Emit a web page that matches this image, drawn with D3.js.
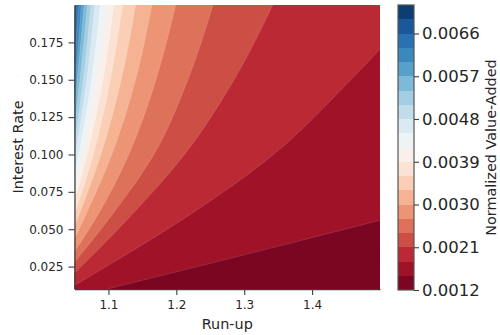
<!DOCTYPE html>
<html>
<head>
<meta charset="utf-8">
<script src="https://cdn.jsdelivr.net/npm/d3@7"></script>
<style>
  html, body { margin: 0; padding: 0; background: #fff; }
  svg { display: block; }
  text { font-family: "DejaVu Sans", sans-serif; fill: #262626; }
</style>
</head>
<body>
<svg id="chart" width="500" height="335"></svg>
<script>
// Contour levels of the normalized value-added surface (20 filled bands)
const levels = [0.0012, 0.0015, 0.0018, 0.0021, 0.0024, 0.0027, 0.0030, 0.0033,
                0.0036, 0.0039, 0.0042, 0.0045, 0.0048, 0.0051, 0.0054, 0.0057,
                0.0060, 0.0063, 0.0066, 0.0069, 0.0072];

// Interest rates at which each contour's run-up position is given
const rateSamples = [0.01, 0.03, 0.06, 0.10, 0.15, 0.20];

// Run-up where the surface crosses each inner level (levels[1] .. levels[19]),
// one entry per interest rate in rateSamples
const contourRunUp = [
  [1.098, 1.275, 1.535, 1.880, 2.300, 2.700], // 0.0015
  [1.041, 1.115, 1.221, 1.343, 1.457, 1.560], // 0.0018
  [1.026, 1.071, 1.135, 1.212, 1.285, 1.342], // 0.0021
  [1.019, 1.054, 1.106, 1.167, 1.217, 1.254], // 0.0024
  [1.015, 1.043, 1.085, 1.130, 1.170, 1.199], // 0.0027
  [1.0125, 1.035, 1.067, 1.105, 1.140, 1.164], // 0.0030
  [1.011, 1.030, 1.057, 1.089, 1.119, 1.140], // 0.0033
  [1.009, 1.026, 1.050, 1.078, 1.103, 1.121], // 0.0036
  [1.008, 1.023, 1.044, 1.069, 1.092, 1.108], // 0.0039
  [1.0074, 1.021, 1.040, 1.062, 1.082, 1.097], // 0.0042
  [1.0067, 1.019, 1.036, 1.056, 1.075, 1.088], // 0.0045
  [1.006, 1.017, 1.033, 1.051, 1.068, 1.080], // 0.0048
  [1.0056, 1.016, 1.030, 1.047, 1.063, 1.074], // 0.0051
  [1.0052, 1.015, 1.028, 1.044, 1.058, 1.069], // 0.0054
  [1.005, 1.014, 1.026, 1.041, 1.054, 1.064], // 0.0057
  [1.0046, 1.013, 1.025, 1.038, 1.051, 1.060], // 0.0060
  [1.0043, 1.012, 1.023, 1.036, 1.048, 1.056], // 0.0063
  [1.0041, 1.011, 1.022, 1.034, 1.045, 1.053], // 0.0066
  [1.0039, 1.0105, 1.021, 1.032, 1.043, 1.0505] // 0.0069
];

// Axis ticks
const xTicks = [1.1, 1.2, 1.3, 1.4];
const yTicks = [0.025, 0.05, 0.075, 0.1, 0.125, 0.15, 0.175];
const cbarTicks = [0.0012, 0.0021, 0.0030, 0.0039, 0.0048, 0.0057, 0.0066];

// Diverging red-blue palette
const rdbu = ["#67001f", "#b2182b", "#d6604d", "#f4a582", "#fddbc7", "#f7f7f7",
              "#d1e5f0", "#92c5de", "#4393c3", "#2166ac", "#053061"];

const svg = d3.select("#chart");
const plot = { left: 74.5, right: 380, top: 5, bottom: 289 };

const x = d3.scaleLinear().domain([1.05, 1.5]).range([plot.left, plot.right]);
const y = d3.scaleLinear().domain([0.01, 0.2]).range([plot.bottom, plot.top]);

const palette = d3.scaleLinear()
  .domain(d3.range(rdbu.length).map(i => i / (rdbu.length - 1)))
  .range(rdbu)
  .interpolate(d3.interpolateRgb);
const nBands = levels.length - 1;
const bandColor = k => palette((k + 0.5) / nBands);

// Clip to the plotting area
svg.append("defs").append("clipPath").attr("id", "plot-clip")
  .append("rect")
  .attr("x", plot.left).attr("y", plot.top)
  .attr("width", plot.right - plot.left).attr("height", plot.bottom - plot.top);

const field = svg.append("g").attr("clip-path", "url(#plot-clip)");

// Top band fills the whole area; each lower band is painted to the right of its level
field.append("rect")
  .attr("x", plot.left).attr("y", plot.top)
  .attr("width", plot.right - plot.left).attr("height", plot.bottom - plot.top)
  .attr("fill", bandColor(nBands - 1));

const area = d3.area()
  .curve(d3.curveMonotoneY)
  .y(d => y(d.r))
  .x0(d => x(d.u))
  .x1(plot.right + 20);

const edge = d3.line()
  .curve(d3.curveMonotoneY)
  .y(d => y(d.r))
  .x(d => x(d.u));

for (let k = contourRunUp.length - 1; k >= 0; k--) {
  const pts = rateSamples.map((r, i) => ({ r, u: contourRunUp[k][i] }));
  field.append("path")
    .attr("d", area(pts))
    .attr("fill", bandColor(k));
}
// faint seams along the contour edges
for (let k = 0; k < contourRunUp.length; k++) {
  const pts = rateSamples.map((r, i) => ({ r, u: contourRunUp[k][i] }));
  field.append("path")
    .attr("d", edge(pts))
    .attr("fill", "none")
    .attr("stroke", "#ffffff")
    .attr("stroke-opacity", 0.22)
    .attr("stroke-width", 0.6);
}

// Axes
const axisColor = "#3d3d3d";
const xAxis = svg.append("g")
  .attr("transform", `translate(0,${plot.bottom})`)
  .call(d3.axisBottom(x).tickValues(xTicks).tickSize(6).tickSizeOuter(0).tickPadding(5)
    .tickFormat(d3.format(".1f")));
const yAxis = svg.append("g")
  .attr("transform", `translate(${plot.left},0)`)
  .call(d3.axisLeft(y).tickValues(yTicks).tickSize(6).tickSizeOuter(0).tickPadding(5)
    .tickFormat(d3.format(".3f")));
[xAxis, yAxis].forEach(g => {
  g.selectAll("path.domain").attr("stroke", axisColor).attr("stroke-width", 1.25);
  g.selectAll(".tick line").attr("stroke", axisColor).attr("stroke-width", 1.1);
  g.selectAll(".tick text").attr("font-size", 12).attr("font-family", "DejaVu Sans").attr("fill", "#262626");
});

svg.append("text")
  .attr("x", (plot.left + plot.right) / 2).attr("y", 329)
  .attr("text-anchor", "middle").attr("font-size", 14.4)
  .text("Run-up");
svg.append("text")
  .attr("transform", `translate(23,${(plot.top + plot.bottom) / 2}) rotate(-90)`)
  .attr("text-anchor", "middle").attr("font-size", 14.4)
  .text("Interest Rate");

// Colorbar
const cb = { left: 398, width: 16, top: 5, bottom: 290 };
const cy = d3.scaleLinear().domain([levels[0], levels[levels.length - 1]]).range([cb.bottom, cb.top]);
const cbar = svg.append("g");
cbar.selectAll("rect.band")
  .data(d3.range(nBands))
  .join("rect")
  .attr("class", "band")
  .attr("x", cb.left).attr("width", cb.width)
  .attr("y", k => cy(levels[k + 1]))
  .attr("height", k => cy(levels[k]) - cy(levels[k + 1]))
  .attr("fill", k => bandColor(k))
  .attr("shape-rendering", "crispEdges");
cbar.append("rect")
  .attr("x", cb.left).attr("y", cb.top)
  .attr("width", cb.width).attr("height", cb.bottom - cb.top)
  .attr("fill", "none").attr("stroke", "#555").attr("stroke-width", 1.2);

const cAxis = svg.append("g")
  .attr("transform", `translate(${cb.left + cb.width},0)`)
  .call(d3.axisRight(cy).tickValues(cbarTicks).tickSize(5).tickSizeOuter(0).tickPadding(3)
    .tickFormat(d3.format(".4f")));
cAxis.select("path.domain").remove();
cAxis.selectAll(".tick line").attr("stroke", axisColor).attr("stroke-width", 1.1);
cAxis.selectAll(".tick text").attr("font-size", 16.5).attr("font-family", "DejaVu Sans").attr("fill", "#262626");

svg.append("text")
  .attr("transform", `translate(496,${(cb.top + cb.bottom) / 2}) rotate(-90)`)
  .attr("text-anchor", "middle").attr("font-size", 14.4)
  .text("Normalized Value-Added");
</script>
</body>
</html>
